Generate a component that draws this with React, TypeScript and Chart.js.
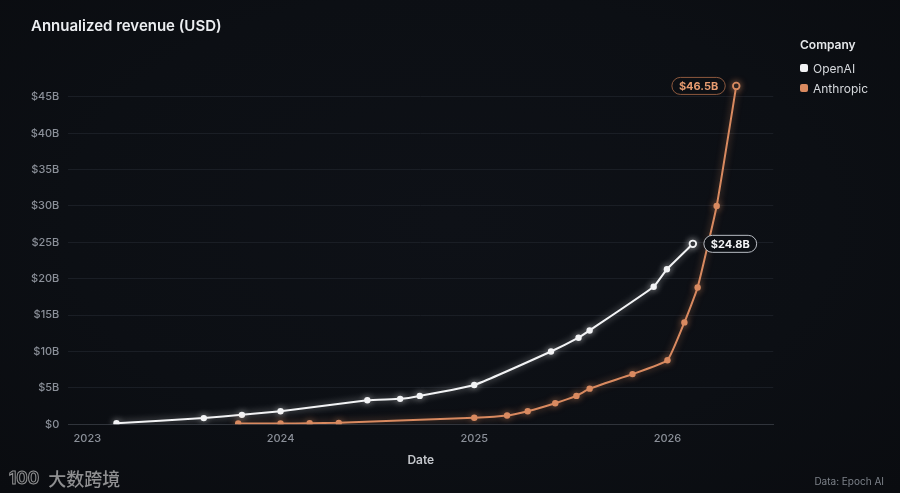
import React, { useEffect, useRef } from "react";
import { Chart, registerables } from "chart.js";

Chart.register(...registerables);

const SERIES_NAMES = ["OpenAI", "Anthropic"];
const SERIES_COLORS = ["#f2f3f5", "#d98a60"];
const LABEL_BORDERS = ["#b9bdc4", "#8e5a3f"];
const LABEL_TEXT = ["#f4f5f7", "#e69b70"];

const OPENAI_DATES = [
  "2023-02-25", "2023-08-09", "2023-10-20", "2024-01-01", "2024-06-13",
  "2024-08-14", "2024-09-20", "2025-01-01", "2025-05-26", "2025-07-17",
  "2025-08-07", "2025-12-06", "2025-12-31", "2026-02-18",
];
const OPENAI_VALUES = [0.15, 0.85, 1.3, 1.8, 3.3, 3.5, 3.9, 5.4, 10.0, 11.9, 12.9, 18.9, 21.3, 24.8];

const ANTHROPIC_DATES = [
  "2023-10-13", "2024-01-01", "2024-02-25", "2024-04-20", "2025-01-01",
  "2025-03-04", "2025-04-12", "2025-06-03", "2025-07-13", "2025-08-07",
  "2025-10-27", "2026-01-01", "2026-02-02", "2026-02-27", "2026-04-04",
  "2026-05-11",
];
const ANTHROPIC_VALUES = [0.1, 0.1, 0.15, 0.2, 0.9, 1.2, 1.8, 2.9, 3.9, 4.9, 6.9, 8.8, 14.0, 18.8, 30.0, 46.5];

const YEAR_TICKS = [2023, 2024, 2025, 2026];
const Y_TICKS = [0, 5, 10, 15, 20, 25, 30, 35, 40, 45];
const X_MIN_DATE = "2022-11-26";
const X_MAX_DATE = "2026-07-20";
const Y_MAX = 48;

const BG = "#0c0f14";
const FONT = 'Inter, "Noto Sans", sans-serif';

const toMs = (d: string) => {
  const [y, m, day] = d.split("-").map(Number);
  return Date.UTC(y, m - 1, day);
};

const glowPlugin = {
  id: "glow",
  beforeDatasetDraw(chart: any, args: any) {
    const ctx = chart.ctx;
    ctx.save();
    const i = args.index;
    ctx.shadowColor = i === 0 ? "rgba(255,255,255,0.55)" : "rgba(217,138,96,0.6)";
    ctx.shadowBlur = 7;
  },
  afterDatasetDraw(chart: any) {
    chart.ctx.restore();
  },
};

const endLabelPlugin = {
  id: "endLabels",
  afterDatasetsDraw(chart: any) {
    const ctx = chart.ctx;
    chart.data.datasets.forEach((ds: any, i: number) => {
      const meta = chart.getDatasetMeta(i);
      const last = meta.data[meta.data.length - 1];
      if (!last) return;
      const v = ds.data[ds.data.length - 1].y;
      const text = `$${v.toFixed(1)}B`;
      ctx.save();
      ctx.font = `700 11px ${FONT}`;
      const tw = ctx.measureText(text).width;
      const w = tw + 14;
      const h = 17;
      const gap = 11;
      const left = i === 0 ? last.x + gap : last.x - gap - w;
      const top = last.y - h / 2;
      ctx.beginPath();
      ctx.roundRect(left, top, w, h, h / 2);
      ctx.fillStyle = BG;
      ctx.fill();
      ctx.lineWidth = 1;
      ctx.strokeStyle = LABEL_BORDERS[i];
      ctx.stroke();
      ctx.fillStyle = LABEL_TEXT[i];
      ctx.textAlign = "center";
      ctx.textBaseline = "middle";
      ctx.fillText(text, left + w / 2, last.y + 0.5);
      ctx.restore();
    });
  },
};

export default function App() {
  const ref = useRef<HTMLCanvasElement | null>(null);

  useEffect(() => {
    if (!ref.current) return;
    const series = [
      { dates: OPENAI_DATES, values: OPENAI_VALUES },
      { dates: ANTHROPIC_DATES, values: ANTHROPIC_VALUES },
    ];
    const datasets = series.map((s, i) => {
      const n = s.values.length;
      return {
        label: SERIES_NAMES[i],
        data: s.dates.map((d, k) => ({ x: toMs(d), y: s.values[k] })),
        borderColor: SERIES_COLORS[i],
        borderWidth: 2,
        tension: 0.12,
        pointRadius: (c: any) => (c.dataIndex === n - 1 ? 3.3 : 3.2),
        pointBackgroundColor: (c: any) => (c.dataIndex === n - 1 ? BG : SERIES_COLORS[i]),
        pointBorderColor: SERIES_COLORS[i],
        pointBorderWidth: (c: any) => (c.dataIndex === n - 1 ? 1.8 : 0),
        order: i === 0 ? 1 : 0,
      };
    });

    const chart = new Chart(ref.current, {
      type: "line",
      data: { datasets },
      plugins: [glowPlugin, endLabelPlugin],
      options: {
        animation: false,
        responsive: false,
        devicePixelRatio: 1,
        layout: { padding: { top: 75, right: 126.7, left: 0, bottom: 0 } },
        plugins: {
          legend: { display: false },
          tooltip: { enabled: false },
          title: { display: false },
        },
        scales: {
          x: {
            type: "linear",
            min: toMs(X_MIN_DATE),
            max: toMs(X_MAX_DATE),
            afterBuildTicks: (scale: any) => {
              scale.ticks = YEAR_TICKS.map((y) => ({ value: Date.UTC(y, 0, 1) }));
            },
            afterFit: (scale: any) => {
              scale.height = 68.7;
            },
            grid: { display: false, drawTicks: false },
            border: { display: true, color: "#30343b", width: 1 },
            ticks: {
              padding: 8,
              color: "#8b9099",
              font: { family: FONT, size: 11, weight: 500 },
              maxRotation: 0,
              autoSkip: false,
              callback: (v: any) => String(new Date(Number(v)).getUTCFullYear()),
            },
            title: {
              display: true,
              text: "Date",
              color: "#c4c7cc",
              font: { family: FONT, size: 12, weight: 600 },
              padding: { top: 0, bottom: 25 },
            },
          },
          y: {
            type: "linear",
            min: 0,
            max: Y_MAX,
            afterBuildTicks: (scale: any) => {
              scale.ticks = Y_TICKS.map((v) => ({ value: v }));
            },
            afterFit: (scale: any) => {
              scale.width = 68.3;
            },
            grid: {
              drawTicks: false,
              color: (c: any) => (c.tick && c.tick.value === 0 ? "#30343b" : "#1a1e25"),
              lineWidth: 1,
            },
            border: { display: false },
            ticks: {
              padding: 9,
              color: "#8b9099",
              font: { family: FONT, size: 11, weight: 500 },
              callback: (v: any) => (Number(v) === 0 ? "$0" : `$${v}B`),
            },
          },
        },
      },
    });
    return () => chart.destroy();
  }, []);

  return (
    <div
      style={{
        position: "fixed",
        left: 0,
        top: 0,
        width: 900,
        height: 493,
        overflow: "hidden",
        background: `radial-gradient(ellipse at 50% 45%, #0e1117 0%, ${BG} 60%, #0a0c10 100%)`,
        fontFamily: FONT,
      }}
    >
      <canvas ref={ref} width={900} height={493} style={{ position: "absolute", left: 0, top: 0, width: 900, height: 493 }} />
      <div
        style={{
          position: "absolute",
          left: 31,
          top: 16,
          fontSize: 15,
          fontWeight: 600,
          color: "#eceef1",
          lineHeight: "20px",
          whiteSpace: "nowrap",
        }}
      >
        Annualized revenue (USD)
      </div>
      <div style={{ position: "absolute", left: 800, top: 37, color: "#e6e8eb", whiteSpace: "nowrap" }}>
        <div style={{ fontSize: 12, fontWeight: 600, lineHeight: "16px", marginBottom: 5 }}>Company</div>
        {SERIES_NAMES.map((name, i) => (
          <div key={name} style={{ display: "flex", alignItems: "center", height: 20, fontSize: 12, color: "#d6d9dd" }}>
            <span
              style={{
                display: "inline-block",
                width: 8,
                height: 8,
                borderRadius: 2,
                background: SERIES_COLORS[i],
                marginRight: 5,
              }}
            />
            {name}
          </div>
        ))}
      </div>
      <div
        style={{
          position: "absolute",
          right: 16,
          top: 474,
          fontSize: 10,
          color: "#7b8088",
          lineHeight: "14px",
          whiteSpace: "nowrap",
        }}
      >
        Data: Epoch AI
      </div>
      <div
        style={{
          position: "absolute",
          left: 9,
          top: 465,
          display: "flex",
          alignItems: "center",
          color: "rgba(200,200,200,0.7)",
          whiteSpace: "nowrap",
        }}
      >
        <span
          style={{
            fontSize: 17,
            fontWeight: 700,
            color: "transparent",
            WebkitTextStroke: "1px rgba(200,200,200,0.7)",
            marginRight: 9,
            letterSpacing: 0,
          }}
        >
          100
        </span>
        <span style={{ fontSize: 18, fontFamily: '"Noto Sans CJK SC", sans-serif', fontWeight: 500 }}>大数跨境</span>
      </div>
    </div>
  );
}
